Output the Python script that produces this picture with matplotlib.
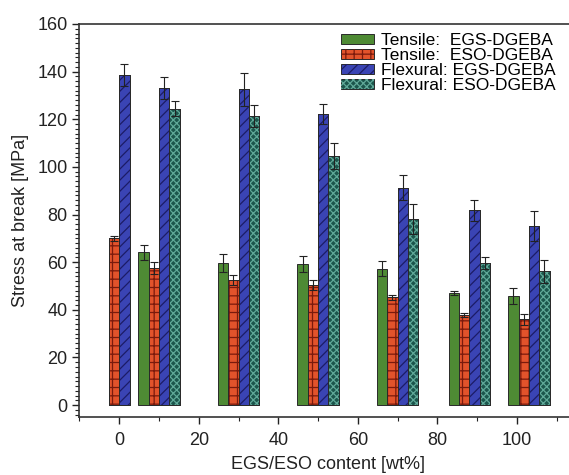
import matplotlib
matplotlib.use("Agg")
import numpy as np
import matplotlib.pyplot as plt
from matplotlib.ticker import MultipleLocator

# -----------------------------
# Data
# -----------------------------
positions = [0, 10, 30, 50, 70, 88, 103]

tensile_egs = [np.nan, 64.2, 59.7, 59.3, 57.2, 47.0, 45.8]
tensile_egs_err = [0, 3.2, 3.8, 3.5, 3.1, 0.7, 3.4]

tensile_eso = [70.1, 57.6, 52.6, 50.6, 45.3, 37.9, 36.0]
tensile_eso_err = [1.1, 2.4, 2.2, 2.1, 1.0, 0.9, 2.3]

flex_egs = [138.5, 133.2, 132.5, 122.1, 91.3, 81.7, 75.1]
flex_egs_err = [4.6, 4.6, 7.0, 4.2, 5.2, 4.5, 6.2]

flex_eso = [np.nan, 124.5, 121.3, 104.6, 78.2, 59.6, 56.1]
flex_eso_err = [0, 3.2, 4.6, 5.5, 6.3, 2.5, 5.0]

labels = ["Tensile:  EGS-DGEBA", "Tensile:  ESO-DGEBA",
          "Flexural: EGS-DGEBA", "Flexural: ESO-DGEBA"]

# -----------------------------
# Styles
# -----------------------------
plt.rcParams["font.family"] = ["Liberation Sans", "DejaVu Sans"]
plt.rcParams["hatch.linewidth"] = 0.9
text_col = "#222222"

series = [
    (tensile_egs, tensile_egs_err, "#4e8a34", None, None),
    (tensile_eso, tensile_eso_err, "#e2532b", "++", "#7a1a0c"),
    (flex_egs, flex_egs_err, "#3a44b4", "///", "#1c1c66"),
    (flex_eso, flex_eso_err, "#1b564c", "xxxxx", "#5fa898"),
]

width = 2.6
offsets = [-1.5, -0.5, 0.5, 1.5]

fig = plt.figure(figsize=(5.69, 4.75), dpi=100)
ax = fig.add_axes([0.1397, 0.1221, 0.8736, 0.8274])

x = np.array(positions, dtype=float)
handles = []
for (vals, errs, face, hatch, hcol), off in zip(series, offsets):
    xs = x + off * width
    base = ax.bar(xs, vals, width=width, color=face, edgecolor="#2a2a2a",
                  linewidth=0.7, zorder=2)
    parts = [base.patches[0]]
    if hatch:
        hb = ax.bar(xs, vals, width=width, facecolor="none", edgecolor=hcol,
                    hatch=hatch, linewidth=0, zorder=3)
        ax.bar(xs, vals, width=width, facecolor="none", edgecolor="#2a2a2a",
               linewidth=0.7, zorder=4)
        parts.append(hb.patches[0])
    ax.errorbar(xs, vals, yerr=errs, fmt="none", ecolor="#222222",
                elinewidth=0.8, capsize=2.8, capthick=0.8, zorder=5)
    handles.append(tuple(parts))

# -----------------------------
# Axes
# -----------------------------
ax.set_xlim(-10, 115)
ax.set_ylim(-5, 160)
ax.xaxis.set_major_locator(MultipleLocator(20))
ax.xaxis.set_minor_locator(MultipleLocator(10))
ax.yaxis.set_major_locator(MultipleLocator(20))
ax.yaxis.set_minor_locator(MultipleLocator(2))
ax.tick_params(which="both", direction="out", colors=text_col, labelsize=13)
ax.tick_params(which="major", length=5, width=1.0)
ax.tick_params(which="minor", length=3, width=0.8)
ax.tick_params(axis="x", which="major", pad=6)
ax.xaxis.set_ticks_position("bottom")
ax.yaxis.set_ticks_position("left")
for side in ["left", "bottom", "top"]:
    ax.spines[side].set_color("#333333")
    ax.spines[side].set_linewidth(1.2)
ax.spines["right"].set_visible(False)

ax.set_xlabel("EGS/ESO content [wt%]", fontsize=13, color=text_col, labelpad=5)
ax.set_ylabel("Stress at break [MPa]", fontsize=13, color=text_col, labelpad=6)

ax.legend(handles, labels, loc="upper left", bbox_to_anchor=(0.52, 0.985),
          frameon=False, fontsize=12.5, handlelength=1.9, handleheight=0.55,
          handletextpad=0.4, labelspacing=0.0, borderpad=0.2,
          borderaxespad=0)

fig.savefig("out.png", dpi=100)
plt.close(fig)
